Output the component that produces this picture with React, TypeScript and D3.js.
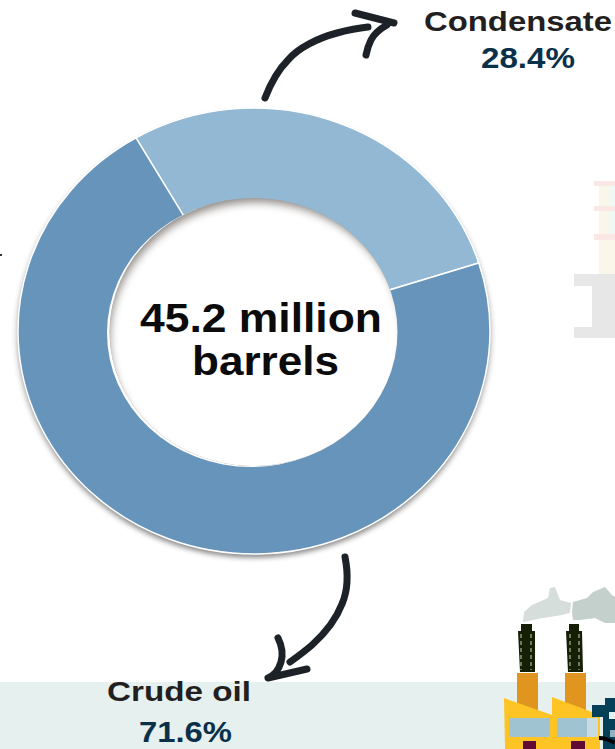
import React from "react";
import * as d3 from "d3";

const categories = ["Condensate", "Crude oil"];
const shares = [28.4, 71.6];
const sliceColors = ["#92b8d3", "#6794bb"];
const centerLines = ["45.2 million", "barrels"];

const W = 615, H = 749;
const cx = 254, cy = 331, rx = 236, ry = 223;
const holeCx = 253.5, holeCy = 332, holeRx = 144, holeRy = 134;
const yScale = ry / rx;
const deg = Math.PI / 180;

export default function App() {
  const pie = d3.pie<number>().sort(null).startAngle(-30 * deg).endAngle(330 * deg);
  const arcs = pie(shares);
  const arc = d3.arc<d3.PieArcDatum<number>>().innerRadius(110).outerRadius(rx);
  const font = "'Liberation Sans', Arial, sans-serif";
  const label = (s: string, x: number, y: number, len: number, size: number, fill: string) => (
    <text x={x} y={y} fontSize={size} fill={fill} textLength={len} lengthAdjust="spacingAndGlyphs">{s}</text>
  );
  return (
    <svg width={W} height={H} viewBox={`0 0 ${W} ${H}`}
      style={{ position: "fixed", left: 0, top: 0, background: "#fff" }}>
      <defs>
        <filter id="ringShadow" x="-10%" y="-10%" width="120%" height="120%">
          <feDropShadow dx="0" dy="4" stdDeviation="3" floodColor="#000" floodOpacity="0.45" />
        </filter>
        <filter id="soft" x="-15%" y="-15%" width="130%" height="130%">
          <feGaussianBlur stdDeviation="4" />
        </filter>
        <clipPath id="holeClip">
          <ellipse cx={holeCx} cy={holeCy} rx={holeRx} ry={holeRy} />
        </clipPath>
      </defs>

      <rect x={0} y={682} width={W} height={H - 682} fill="#e6f0ee" />

      {/* faded refinery right of the ring */}
      <g>
        <rect x={599} y={186} width={16} height={88} fill="#fbf6ea" />
        <rect x={609} y={186} width={6} height={20} fill="#eef8f4" />
        <rect x={609} y={211} width={6} height={23} fill="#eef8f4" />
        <rect x={594} y={181} width={21} height={5} fill="#fbe8e6" />
        <rect x={594} y={206} width={21} height={5} fill="#fbe8e6" />
        <rect x={594} y={234} width={21} height={6} fill="#fbe8e6" />
        <path d="M574 274H615V338H574V327H592V286H574Z" fill="#e7e7e7" />
      </g>

      {/* factory */}
      <g>
        <path d="M523 622L524 612L532 605L548 598L550 588L555 587L560 600L571 603L570 613L562 615L543 618L533 620Z" fill="#d6dedb" />
        <path d="M572 612L573 602L587 598L593 592L605 587L612 595L615 597V623H605L595 618L580 620L573 620Z" fill="#c4d0cc" />
        <path d="M518 631H521V624H532V631H535V672H520Z" fill="#141f06" />
        <path d="M566 631H569V624H579V631H582L583 672H568Z" fill="#141f06" />
        <path d="M521 634V670M531 634V670M570 634V670M579 634V670" stroke="#8d9a80" strokeWidth={1.5} strokeDasharray="4 3" />
        <rect x={517} y={673} width={21} height={38} fill="#e0951f" />
        <rect x={565} y={673} width={21} height={38} fill="#e0951f" />
        <path d="M504 698L552 715V749H505Z" fill="#fec425" />
        <path d="M552 697L600 715V749H552Z" fill="#fec425" />
        <rect x={509} y={718} width={41} height={19} fill="#9fc3d0" />
        <rect x={557} y={718} width={30} height={19} fill="#9fc3d0" />
        <rect x={587} y={718} width={11} height={19} fill="#c8dbe2" />
        <rect x={523} y={741} width={13} height={8} fill="#5f0a34" />
        <rect x={571} y={741} width={14} height={8} fill="#5f0a34" />
        <path d="M605 698H615V749H603V717H592V705H605Z" fill="#064058" />
        <rect x={609} y={712} width={6} height={7} fill="#e6f0ee" />
        <rect x={610} y={730} width={5} height={7} fill="#8fb0bd" />
        <path d="M599 738C604 738 610 740 615 743" fill="none" stroke="#000" strokeWidth={4} />
      </g>

      {/* donut */}
      <g transform={`translate(${cx},${cy}) scale(1,${yScale})`}>
        <circle r={rx} fill="#fff" filter="url(#ringShadow)" />
        {arcs.map((a, i) => (
          <path key={categories[i]} d={arc(a) ?? ""} fill={sliceColors[i]} stroke="#fff" strokeWidth={1.5} />
        ))}
      </g>
      <ellipse cx={holeCx - 2.5} cy={holeCy + 1} rx={holeRx} ry={holeRy} fill="#fff" />
      <ellipse cx={holeCx} cy={holeCy} rx={holeRx} ry={holeRy} fill="#8f8a86" />
      <g clipPath="url(#holeClip)">
        <ellipse cx={holeCx + 3} cy={holeCy + 7} rx={holeRx + 3} ry={holeRy + 3} fill="#fff" filter="url(#soft)" />
      </g>

      <g fontFamily={font} fontWeight={700}>
        {label(centerLines[0], 140, 332, 242, 40, "#0b0b0b")}
        {label(centerLines[1], 192, 375, 147, 40, "#0b0b0b")}
        {label(categories[0], 424, 31, 188, 28, "#231f20")}
        {label(`${shares[0]}%`, 481, 68, 94, 29, "#0b3049")}
        {label(categories[1], 107, 701, 144, 28, "#231f20")}
        {label(`${shares[1]}%`, 139, 742, 93, 29, "#0b3049")}
      </g>

      {/* hand-drawn arrows */}
      <g fill="none" stroke="#1d2128" strokeWidth={7} strokeLinecap="round" strokeLinejoin="round">
        <path d="M265 98C272 80 280 68 288 60C298 48 318 38 337 33C348 30 358 28 368 27" />
        <path d="M355 13L394 23" />
        <path d="M387 25C378 30 373 36 371 40C368 46 367 50 366 55" />
        <path d="M345 557C348 572 348 590 342 604C335 622 322 636 312 645C304 652 297 657 290 662" />
        <path d="M278 638C282 646 283 655 281 662C279 669 275 675 268 678L307 669" />
      </g>

      <rect x={0} y={254} width={2} height={2} fill="#333" />
    </svg>
  );
}
